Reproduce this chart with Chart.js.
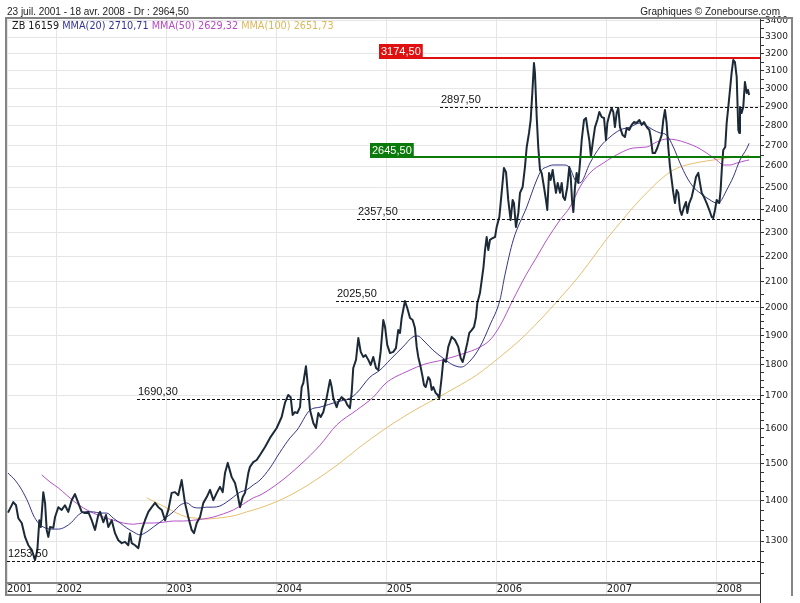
<!DOCTYPE html>
<html>
<head>
<meta charset="utf-8">
<script src="https://cdn.jsdelivr.net/npm/chart.js@4.4.1/dist/chart.umd.min.js"></script>
<style>
  html, body { margin: 0; padding: 0; background: #fff; }
  canvas { display: block; }
</style>
</head>
<body>
<canvas id="chart" width="800" height="603"></canvas>
<script>
// weekly closes, dates as decimal years
const priceDates = [
  2001.557, 2001.605, 2001.630, 2001.651, 2001.682, 2001.712, 2001.742, 2001.773, 2001.803, 2001.824,
  2001.842, 2001.855, 2001.878, 2001.894, 2001.909, 2001.924, 2001.939, 2001.969, 2001.985, 2002.015,
  2002.045, 2002.075, 2002.105, 2002.136, 2002.166, 2002.196, 2002.227, 2002.257, 2002.287, 2002.318,
  2002.348, 2002.378, 2002.394, 2002.424, 2002.448, 2002.469, 2002.500, 2002.530, 2002.560, 2002.591,
  2002.621, 2002.651, 2002.666, 2002.682, 2002.712, 2002.742, 2002.773, 2002.803, 2002.833, 2002.864,
  2002.894, 2002.924, 2002.955, 2002.985, 2003.015, 2003.045, 2003.075, 2003.105, 2003.136, 2003.166,
  2003.196, 2003.227, 2003.248, 2003.273, 2003.303, 2003.333, 2003.364, 2003.394, 2003.424, 2003.455,
  2003.485, 2003.509, 2003.530, 2003.555, 2003.591, 2003.621, 2003.642, 2003.666, 2003.691, 2003.712,
  2003.742, 2003.757, 2003.787, 2003.818, 2003.848, 2003.894, 2003.939, 2004.000, 2004.045, 2004.075,
  2004.105, 2004.127, 2004.145, 2004.166, 2004.187, 2004.212, 2004.227, 2004.242, 2004.266, 2004.287,
  2004.303, 2004.333, 2004.357, 2004.378, 2004.400, 2004.424, 2004.455, 2004.485, 2004.500, 2004.515,
  2004.545, 2004.560, 2004.591, 2004.621, 2004.642, 2004.666, 2004.682, 2004.696, 2004.721, 2004.742,
  2004.764, 2004.787, 2004.809, 2004.833, 2004.855, 2004.878, 2004.903, 2004.924, 2004.945, 2004.969,
  2004.985, 2005.005, 2005.030, 2005.060, 2005.084, 2005.105, 2005.121, 2005.136, 2005.166, 2005.187,
  2005.212, 2005.236, 2005.257, 2005.273, 2005.287, 2005.309, 2005.327, 2005.339, 2005.355, 2005.378,
  2005.394, 2005.409, 2005.424, 2005.446, 2005.464, 2005.478, 2005.500, 2005.515, 2005.539, 2005.560,
  2005.591, 2005.621, 2005.651, 2005.673, 2005.691, 2005.712, 2005.733, 2005.751, 2005.773, 2005.794,
  2005.812, 2005.824, 2005.848, 2005.864, 2005.880, 2005.894, 2005.909, 2005.924, 2005.939, 2005.964,
  2005.985, 2006.000, 2006.024, 2006.045, 2006.066, 2006.085, 2006.105, 2006.127, 2006.145, 2006.157,
  2006.175, 2006.197, 2006.212, 2006.236, 2006.257, 2006.273, 2006.294, 2006.309, 2006.324, 2006.339,
  2006.348, 2006.364, 2006.378, 2006.394, 2006.409, 2006.430, 2006.448, 2006.460, 2006.476, 2006.491,
  2006.509, 2006.521, 2006.539, 2006.555, 2006.576, 2006.591, 2006.605, 2006.621, 2006.642, 2006.660,
  2006.673, 2006.685, 2006.697, 2006.712, 2006.727, 2006.742, 2006.757, 2006.773, 2006.794, 2006.812,
  2006.827, 2006.842, 2006.857, 2006.873, 2006.894, 2006.915, 2006.933, 2006.955, 2006.976, 2006.994,
  2007.006, 2007.024, 2007.045, 2007.060, 2007.075, 2007.091, 2007.106, 2007.121, 2007.145, 2007.166,
  2007.182, 2007.205, 2007.227, 2007.248, 2007.273, 2007.297, 2007.318, 2007.339, 2007.364, 2007.388,
  2007.400, 2007.418, 2007.439, 2007.460, 2007.485, 2007.500, 2007.515, 2007.530, 2007.545, 2007.560,
  2007.576, 2007.591, 2007.606, 2007.621, 2007.636, 2007.651, 2007.667, 2007.682, 2007.703, 2007.721,
  2007.733, 2007.751, 2007.773, 2007.794, 2007.812, 2007.833, 2007.848, 2007.864, 2007.885, 2007.909,
  2007.933, 2007.955, 2007.969, 2007.985, 2008.000, 2008.024, 2008.036, 2008.048, 2008.060, 2008.078,
  2008.091, 2008.106, 2008.121, 2008.136, 2008.151, 2008.166, 2008.182, 2008.197, 2008.206, 2008.212,
  2008.227, 2008.242, 2008.257, 2008.273, 2008.285, 2008.295
];
const priceValues = [
  1370, 1397, 1389, 1356, 1344, 1310, 1290, 1279, 1255, 1279,
  1351, 1334, 1423, 1395, 1327, 1310, 1334, 1332, 1359, 1384,
  1377, 1389, 1372, 1402, 1418, 1395, 1372, 1369, 1372, 1351,
  1327, 1364, 1372, 1346, 1364, 1334, 1351, 1319, 1302, 1295,
  1298, 1290, 1319, 1295, 1290, 1283, 1327, 1351, 1372, 1384,
  1395, 1384, 1377, 1351, 1377, 1421, 1423, 1415, 1455, 1395,
  1359, 1327, 1319, 1344, 1359, 1395, 1410, 1429, 1402, 1421,
  1437, 1423, 1474, 1502, 1463, 1447, 1421, 1384, 1410, 1421,
  1474, 1491, 1504, 1510, 1524, 1547, 1573, 1602, 1635, 1678,
  1703, 1696, 1641, 1650, 1647, 1665, 1728, 1741, 1796, 1719,
  1656, 1617, 1602, 1647, 1635, 1650, 1696, 1751, 1728, 1693,
  1665, 1681, 1696, 1687, 1672, 1662, 1712, 1790, 1817, 1892,
  1844, 1827, 1833, 1817, 1800, 1827, 1790, 1783, 1844, 1956,
  1931, 1868, 1840, 1844, 1857, 1920, 1910, 1963, 2026, 2000,
  1963, 1956, 1927, 1861, 1827, 1793, 1760, 1735, 1728, 1760,
  1751, 1719, 1728, 1709, 1703, 1693, 1760, 1817, 1810, 1861,
  1896, 1885, 1861, 1823, 1810, 1840, 1875, 1910, 1920, 1931,
  1967, 2018, 2056, 2106, 2157, 2226, 2280, 2226, 2268, 2276,
  2280, 2323, 2366, 2474, 2591, 2571, 2442, 2353, 2442, 2428,
  2323, 2384, 2474, 2501, 2595, 2693, 2764, 2831, 2976, 3145,
  3088, 2846, 2693, 2581, 2567, 2501, 2442, 2397, 2567, 2534,
  2581, 2534, 2474, 2520, 2474, 2520, 2455, 2442, 2501, 2595,
  2548, 2442, 2388, 2501, 2567, 2520, 2614, 2728, 2831, 2841,
  2779, 2728, 2644, 2713, 2794, 2831, 2873, 2846, 2841, 2728,
  2815, 2857, 2894, 2873, 2794, 2868, 2894, 2794, 2753, 2743,
  2789, 2779, 2805, 2820, 2815, 2831, 2805, 2820, 2794, 2779,
  2743, 2663, 2663, 2688, 2728, 2753, 2831, 2884, 2815, 2693,
  2595, 2534, 2474, 2428, 2487, 2474, 2397, 2375, 2410, 2433,
  2384, 2428, 2455, 2501, 2548, 2567, 2520, 2474, 2455, 2428,
  2397, 2366, 2362, 2397, 2442, 2428, 2487, 2595, 2678, 2693,
  2815, 2900, 2992, 3088, 3163, 3151, 3065, 2779, 2764, 2900,
  2868, 2900, 3037, 2976, 2992, 2965
];

const mma20Dates = [
  2001.557, 2001.621, 2001.682, 2001.742, 2001.787, 2001.833, 2001.894, 2001.955, 2002.015, 2002.075,
  2002.136, 2002.196, 2002.257, 2002.333, 2002.394, 2002.455, 2002.515, 2002.576, 2002.636, 2002.697,
  2002.757, 2002.818, 2002.878, 2002.939, 2003.000, 2003.060, 2003.121, 2003.182, 2003.242, 2003.303,
  2003.364, 2003.424, 2003.485, 2003.545, 2003.606, 2003.666, 2003.727, 2003.787, 2003.848, 2003.939,
  2004.030, 2004.121, 2004.185, 2004.303, 2004.394, 2004.545, 2004.666, 2004.727, 2004.848, 2004.939,
  2005.030, 2005.091, 2005.148, 2005.239, 2005.284, 2005.330, 2005.421, 2005.512, 2005.603, 2005.676,
  2005.757, 2005.848, 2005.939, 2006.030, 2006.075, 2006.151, 2006.273, 2006.364, 2006.409, 2006.455,
  2006.515, 2006.606, 2006.666, 2006.712, 2006.757, 2006.848, 2006.939, 2007.030, 2007.121, 2007.212,
  2007.303, 2007.364, 2007.424, 2007.485, 2007.545, 2007.606, 2007.667, 2007.727, 2007.788, 2007.848,
  2007.939, 2008.000, 2008.030, 2008.091, 2008.151, 2008.212, 2008.273, 2008.295
];
const mma20Values = [
  1474, 1455, 1429, 1395, 1364, 1344, 1332, 1329, 1329, 1334,
  1346, 1364, 1372, 1372, 1369, 1369, 1356, 1344, 1332, 1322,
  1315, 1322, 1334, 1346, 1359, 1372, 1389, 1395, 1384, 1382,
  1384, 1384, 1387, 1397, 1410, 1423, 1429, 1442, 1455, 1488,
  1532, 1573, 1596, 1656, 1665, 1681, 1693, 1709, 1760, 1783,
  1817, 1840, 1861, 1896, 1899, 1885, 1850, 1823, 1800, 1793,
  1813, 1861, 1938, 2030, 2126, 2268, 2410, 2534, 2581, 2595,
  2605, 2605, 2591, 2534, 2520, 2614, 2693, 2743, 2779, 2794,
  2815, 2800, 2779, 2764, 2753, 2693, 2614, 2548, 2501, 2474,
  2442, 2428, 2433, 2487, 2548, 2629, 2685, 2711
];

const mma50Dates = [
  2001.864, 2001.939, 2002.015, 2002.091, 2002.166, 2002.242, 2002.333, 2002.424, 2002.515, 2002.606,
  2002.697, 2002.788, 2002.878, 2002.969, 2003.060, 2003.151, 2003.242, 2003.333, 2003.424, 2003.515,
  2003.606, 2003.697, 2003.787, 2003.848, 2004.030, 2004.212, 2004.394, 2004.545, 2004.727, 2004.878,
  2004.994, 2005.194, 2005.348, 2005.512, 2005.712, 2005.830, 2005.939, 2006.030, 2006.148, 2006.267,
  2006.358, 2006.455, 2006.576, 2006.666, 2006.757, 2006.848, 2006.969, 2007.121, 2007.242, 2007.364,
  2007.455, 2007.545, 2007.636, 2007.727, 2007.818, 2007.909, 2008.000, 2008.060, 2008.121, 2008.182,
  2008.273, 2008.295
];
const mma50Values = [
  1469, 1450, 1434, 1415, 1397, 1382, 1369, 1359, 1351, 1344,
  1341, 1344, 1344, 1346, 1349, 1349, 1351, 1354, 1359, 1367,
  1377, 1392, 1408, 1415, 1450, 1496, 1552, 1611, 1656, 1696,
  1741, 1780, 1803, 1817, 1840, 1857, 1885, 1935, 2030, 2126,
  2193, 2268, 2353, 2410, 2501, 2567, 2614, 2663, 2688, 2693,
  2718, 2733, 2728, 2713, 2693, 2663, 2629, 2605, 2605, 2614,
  2627, 2629
];

const mma100Dates = [
  2002.818, 2002.909, 2003.000, 2003.091, 2003.182, 2003.273, 2003.364, 2003.455, 2003.545, 2003.636,
  2003.727, 2003.848, 2004.030, 2004.212, 2004.394, 2004.576, 2004.757, 2004.969, 2005.151, 2005.303,
  2005.455, 2005.636, 2005.818, 2006.030, 2006.212, 2006.394, 2006.576, 2006.757, 2006.894, 2006.994,
  2007.121, 2007.242, 2007.364, 2007.485, 2007.606, 2007.727, 2007.848, 2007.969, 2008.091, 2008.182,
  2008.273, 2008.295
];
const mma100Values = [
  1408, 1395, 1382, 1369, 1359, 1356, 1354, 1356, 1359, 1364,
  1372, 1382, 1402, 1429, 1463, 1502, 1547, 1596, 1635, 1665,
  1693, 1728, 1767, 1827, 1885, 1956, 2037, 2126, 2206, 2268,
  2340, 2410, 2474, 2534, 2581, 2605, 2619, 2629, 2639, 2644,
  2649, 2652
];

const yearLabels = [2001, 2002, 2003, 2004, 2005, 2006, 2007, 2008];

// support / resistance levels
const levelValues = [3174.5, 2897.5, 2645.5, 2357.5, 2025.5, 1690.3, 1253.5];
const levelLabels = ['3174,50', '2897,50', '2645,50', '2357,50', '2025,50', '1690,30', '1253,50'];
const levelFrom = [2004.930, 2005.485, 2004.848, 2004.730, 2004.539, 2002.730, 2001.548];

const titleText = '23 juil. 2001 - 18 avr. 2008 - Dr : 2964,50';
const creditText = 'Graphiques \u00a9 Zonebourse.com';
const legendParts = ['ZB 16159', 'MMA(20) 2710,71', 'MMA(50) 2629,32', 'MMA(100) 2651,73'];

const legendColors = ['#1a1a1a', '#333399', '#b848c8', '#dcb85a'];
const levelColors = ['#e01010', null, '#0a7a0a', null, null, null, null];

function pts(xs, ys) {
  return xs.map((d, i) => ({ x: d, y: ys[i] }));
}

const decor = {
  id: 'decor',
  beforeDraw(chart) {
    const ctx = chart.ctx;
    ctx.save();
    ctx.fillStyle = '#fff';
    ctx.fillRect(0, 0, chart.width, chart.height);
    ctx.restore();
  },
  afterDatasetsDraw(chart) {
    const { ctx, chartArea, scales } = chart;
    ctx.save();
    ctx.font = '11px "Liberation Sans", Arial, sans-serif';
    ctx.textBaseline = 'alphabetic';
    levelValues.forEach((v, i) => {
      const x0 = Math.round(scales.x.getPixelForValue(levelFrom[i]));
      const yy = Math.round(scales.y.getPixelForValue(v));
      const col = levelColors[i];
      ctx.beginPath();
      if (col) {
        ctx.setLineDash([]);
        ctx.lineWidth = 2;
        ctx.strokeStyle = col;
        ctx.moveTo(x0, yy);
        ctx.lineTo(chartArea.right, yy);
        ctx.stroke();
        const w = ctx.measureText(levelLabels[i]).width + 4;
        ctx.fillStyle = col;
        ctx.fillRect(x0, yy - 14, w, 14);
        ctx.fillStyle = '#fff';
        ctx.fillText(levelLabels[i], x0 + 2, yy - 3);
      } else {
        ctx.setLineDash([3, 2]);
        ctx.lineWidth = 1;
        ctx.strokeStyle = '#111';
        ctx.moveTo(x0, yy + 0.5);
        ctx.lineTo(chartArea.right, yy + 0.5);
        ctx.stroke();
        ctx.fillStyle = '#111';
        ctx.fillText(levelLabels[i], x0 + 1, yy - 4);
      }
    });
    ctx.restore();
  },
  afterDraw(chart) {
    const { ctx, chartArea } = chart;
    ctx.save();
    // frame
    ctx.strokeStyle = '#858585';
    ctx.lineWidth = 2;
    ctx.beginPath();
    ctx.moveTo(6, 17); ctx.lineTo(6, 596);
    ctx.moveTo(5, 18); ctx.lineTo(792, 18);
    ctx.moveTo(5, 595); ctx.lineTo(chartArea.right, 595);
    ctx.moveTo(792, 17); ctx.lineTo(792, 596);
    ctx.stroke();
    ctx.strokeStyle = '#333';
    ctx.lineWidth = 1;
    ctx.beginPath();
    ctx.moveTo(chartArea.right + 0.5, chartArea.bottom);
    ctx.lineTo(chartArea.right + 0.5, 603);
    ctx.stroke();

    ctx.fillStyle = '#222';
    ctx.font = '10px "Liberation Sans", Arial, sans-serif';
    ctx.textAlign = 'left';
    ctx.fillText(titleText, 7, 15);
    ctx.textAlign = 'right';
    ctx.fillText(creditText, 780, 15);

    ctx.textAlign = 'left';
    ctx.font = '9.7px "DejaVu Sans", sans-serif';
    let x = 12;
    legendParts.forEach((p, i) => {
      ctx.fillStyle = legendColors[i];
      ctx.fillText(p, x, 29);
      x += ctx.measureText(p + ' ').width;
    });
    ctx.restore();
  }
};

new Chart(document.getElementById('chart'), {
  type: 'line',
  data: {
    datasets: [
      { label: 'ZB', data: pts(priceDates, priceValues), borderColor: '#1c2a38', borderWidth: 2, tension: 0 },
      { label: 'MMA(20)', data: pts(mma20Dates, mma20Values), borderColor: '#35358a', borderWidth: 1, cubicInterpolationMode: 'monotone' },
      { label: 'MMA(50)', data: pts(mma50Dates, mma50Values), borderColor: '#b552c8', borderWidth: 1, cubicInterpolationMode: 'monotone' },
      { label: 'MMA(100)', data: pts(mma100Dates, mma100Values), borderColor: '#e6c070', borderWidth: 1, cubicInterpolationMode: 'monotone' }
    ]
  },
  options: {
    responsive: false,
    devicePixelRatio: 1,
    animation: false,
    events: [],
    elements: { point: { radius: 0 }, line: { borderJoinStyle: 'round' } },
    layout: { padding: { left: 7, top: 18, right: 0, bottom: 0 } },
    plugins: { legend: { display: false }, title: { display: false }, tooltip: { enabled: false } },
    scales: {
      x: {
        type: 'linear',
        position: 'bottom',
        min: 2001.548,
        max: 2008.394,
        bounds: 'data',
        afterBuildTicks(scale) {
          scale.ticks = yearLabels.map(yr => ({ value: Math.max(yr, scale.min) }));
        },
        afterFit(scale) { scale.height = 20; },
        grid: { color: '#e6e6e6', lineWidth: 1, drawTicks: true, tickLength: 12, tickColor: '#e6e6e6' },
        border: { display: true, color: '#858585', width: 2 },
        ticks: {
          autoSkip: false,
          maxRotation: 0,
          align: 'start',
          padding: -12,
          color: '#222',
          font: { family: 'DejaVu Sans', size: 10 },
          callback: (v, i) => String(yearLabels[i])
        }
      },
      y: {
        type: 'logarithmic',
        position: 'right',
        min: 1203,
        max: 3418,
        bounds: 'data',
        afterBuildTicks(scale) {
          const t = [];
          for (let v = 1225; v <= 3400; v += 25) {
            if (v < 2000 || v % 50 === 0) t.push({ value: v });
          }
          scale.ticks = t;
        },
        afterFit(scale) { scale.width = 40; },
        grid: {
          color: c => (c.tick && c.tick.value % 100 === 0 ? '#e6e6e6' : 'rgba(0,0,0,0)'),
          tickColor: '#333',
          tickLength: 4,
          drawTicks: true
        },
        border: { display: true, color: '#333', width: 1 },
        ticks: {
          autoSkip: false,
          padding: 1,
          color: '#222',
          font: { family: 'DejaVu Sans', size: 9 },
          callback: v => (v % 100 === 0 ? String(v) : '')
        }
      }
    }
  },
  plugins: [decor]
});
</script>
</body>
</html>
